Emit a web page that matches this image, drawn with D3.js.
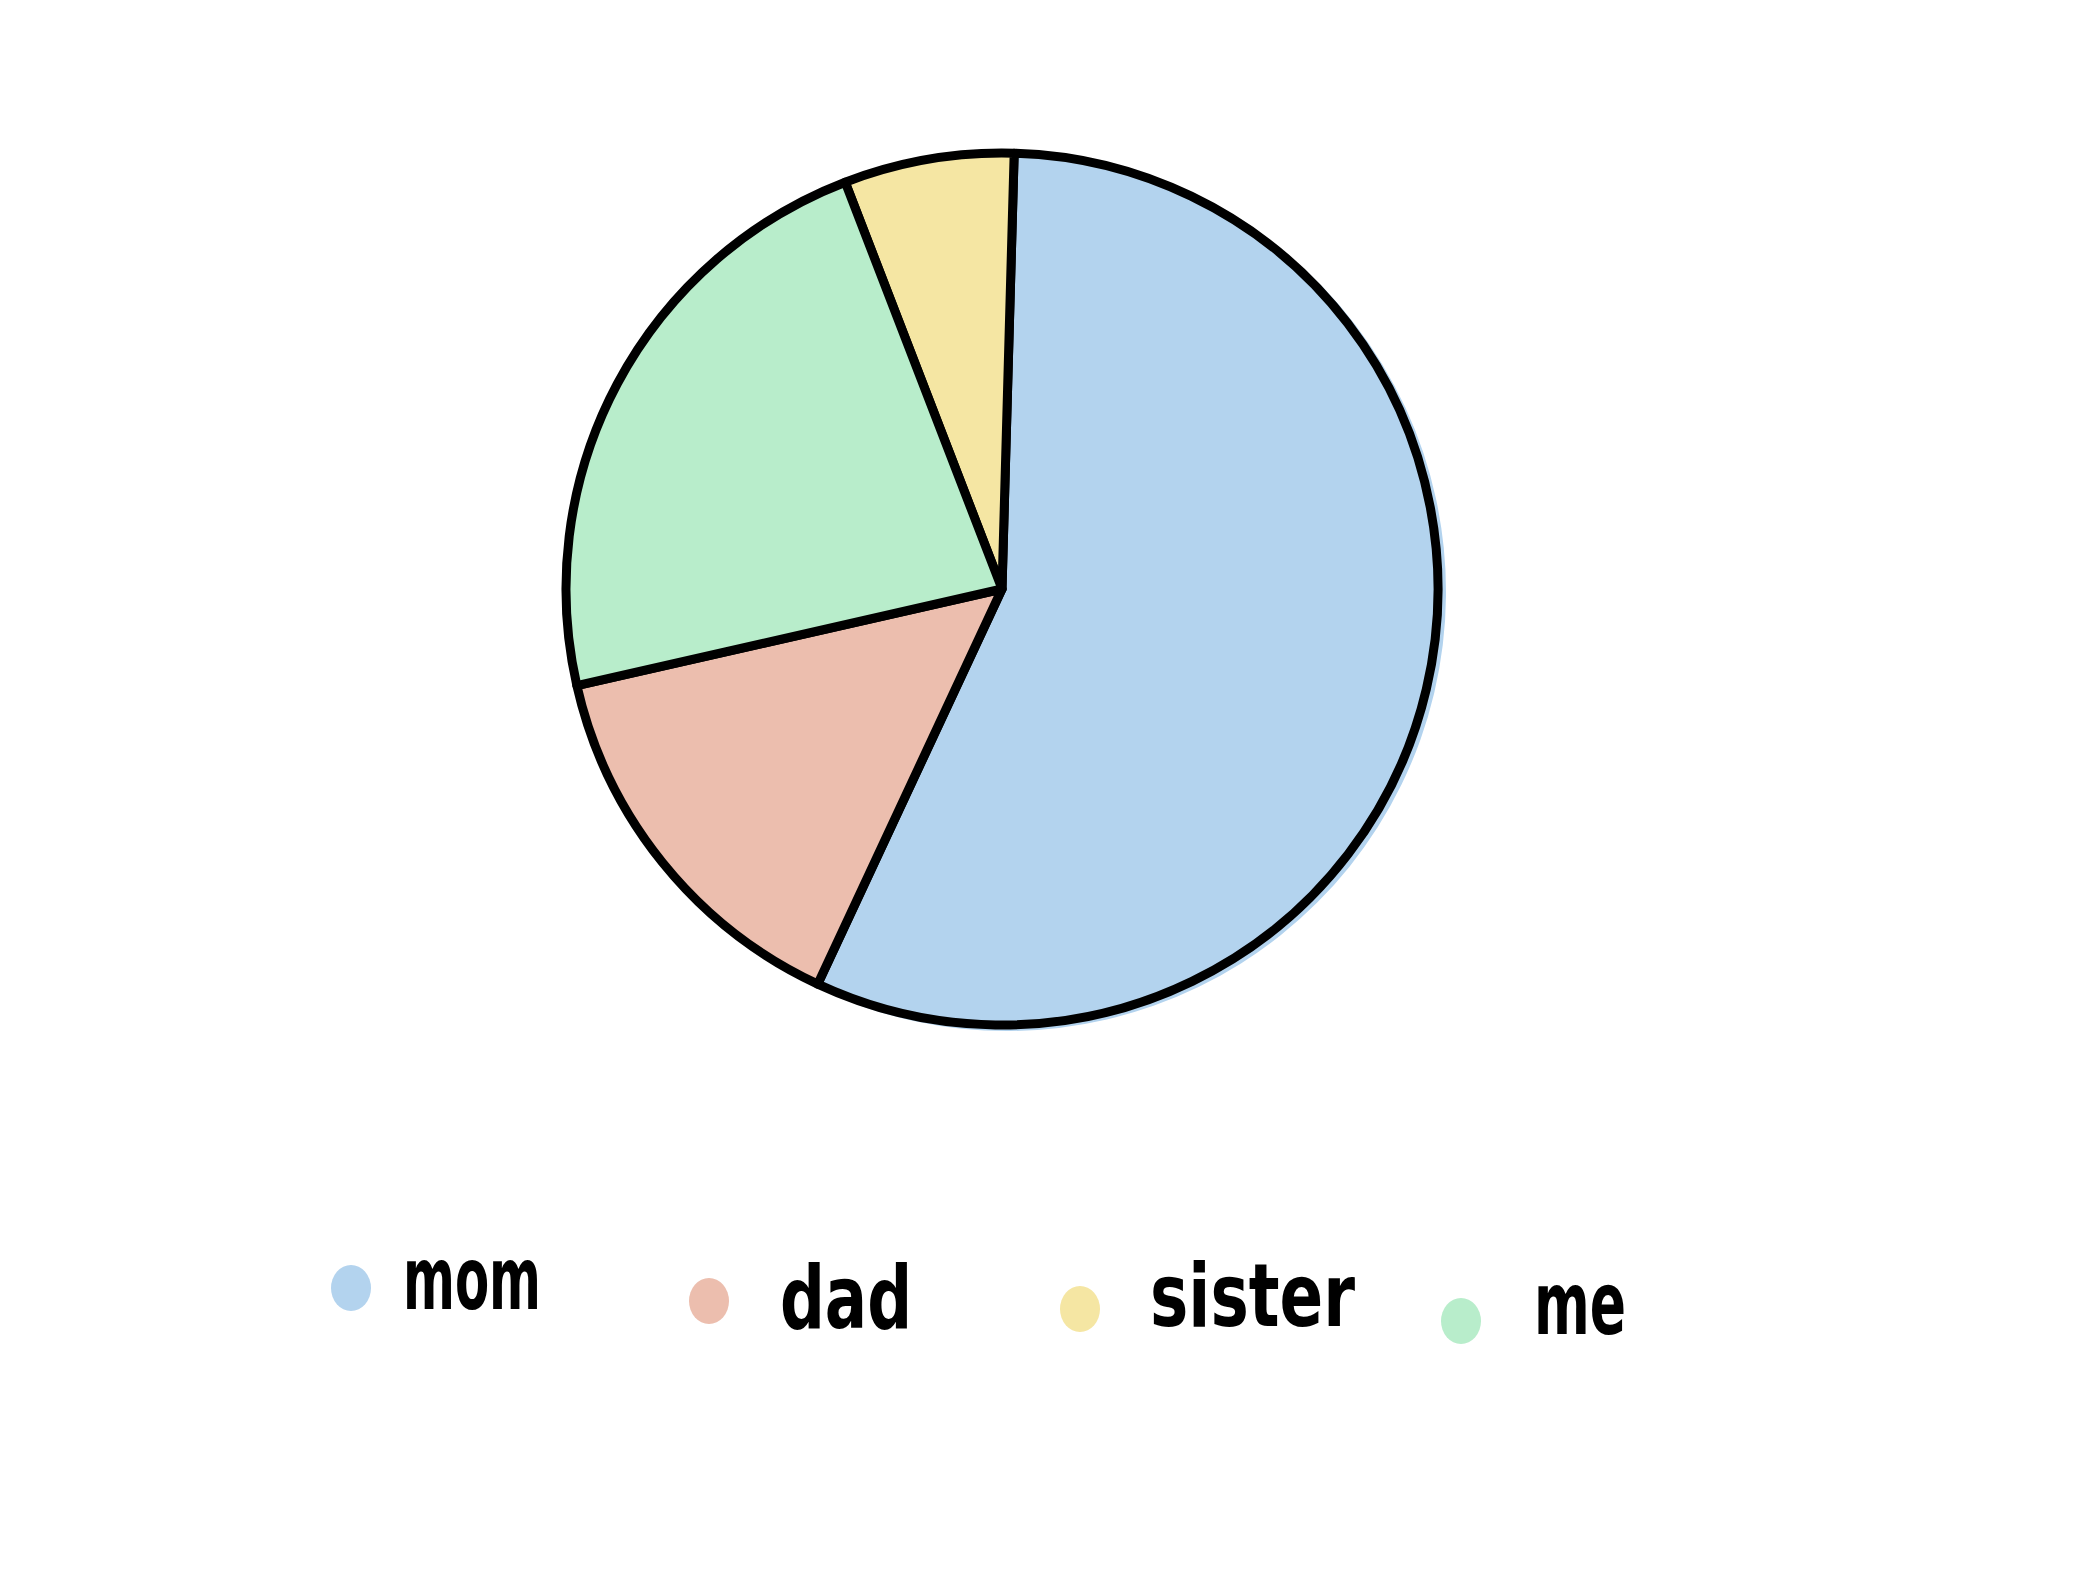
<!DOCTYPE html>
<html>
<head>
<meta charset="utf-8">
<script src="https://cdn.jsdelivr.net/npm/d3@7"></script>
<style>
  html, body { margin: 0; padding: 0; background: #ffffff; }
  svg { display: block; }
</style>
</head>
<body>
<svg id="chart" width="2073" height="1575"></svg>
<script>
// ---- data ----
const categories = ["mom", "dad", "sister", "me"];
const values = [56.5, 14.5, 6.3, 22.7];
const colors = ["#b3d3ee", "#ecbeae", "#f5e6a3", "#b8edcb"];
// clockwise drawing order of the slices
const drawOrder = ["mom", "dad", "me", "sister"];

const data = categories.map((c, i) => ({ cat: c, value: values[i], color: colors[i] }));

const svg = d3.select("#chart");
const cx = 1002, cy = 589, R = 436;

const pie = d3.pie()
  .value(d => d.value)
  .sort((a, b) => drawOrder.indexOf(a.cat) - drawOrder.indexOf(b.cat))
  .startAngle(1.6 * Math.PI / 180)
  .endAngle(1.6 * Math.PI / 180 + 2 * Math.PI);

const arc = d3.arc().innerRadius(0).outerRadius(R);
const arcs = pie(data);

const g = svg.append("g").attr("transform", `translate(${cx},${cy})`);

// slightly offset "sketchy" fill underneath
g.selectAll("path.under")
  .data(arcs)
  .join("path")
  .attr("class", "under")
  .attr("d", d3.arc().innerRadius(0).outerRadius(R + 3))
  .attr("transform", "translate(5,3)")
  .attr("fill", d => d.data.color);

g.selectAll("path.slice")
  .data(arcs)
  .join("path")
  .attr("class", "slice")
  .attr("d", arc)
  .attr("fill", d => d.data.color)
  .attr("stroke", "#000")
  .attr("stroke-width", 9)
  .attr("stroke-linejoin", "round")
  .attr("stroke-linecap", "round");

// ---- legend ----
const legendLayout = [
  { dx: 351, dy: 1288, tx: 403, ty: 1309, len: 138 },
  { dx: 709, dy: 1301, tx: 780, ty: 1328, len: 132 },
  { dx: 1080, dy: 1309, tx: 1150, ty: 1326, len: 205 },
  { dx: 1461, dy: 1321, tx: 1534, ty: 1334, len: 92 }
];

const leg = svg.append("g");
data.forEach((d, i) => {
  const L = legendLayout[i];
  leg.append("ellipse")
    .attr("cx", L.dx).attr("cy", L.dy)
    .attr("rx", 20).attr("ry", 23)
    .attr("fill", d.color);
  leg.append("text")
    .attr("x", L.tx).attr("y", L.ty)
    .attr("font-family", "'Liberation Sans Narrow', 'DejaVu Sans Condensed', 'DejaVu Sans', sans-serif")
    .attr("font-weight", 700)
    .attr("font-size", 88)
    .attr("textLength", L.len)
    .attr("lengthAdjust", "spacingAndGlyphs")
    .attr("fill", "#000")
    .text(d.cat);
});
</script>
</body>
</html>
